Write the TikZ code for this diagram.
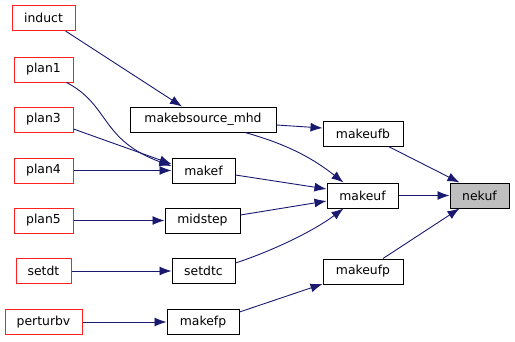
\documentclass[tikz,border=0pt]{standalone}
\usepackage{fontspec}
\setmainfont{DejaVu Sans}
\usetikzlibrary{arrows.meta}
\definecolor{edgeblue}{HTML}{191970}
\definecolor{leafred}{HTML}{FF2020}
\definecolor{curfill}{HTML}{BFBFBF}

\begin{document}
\begin{tikzpicture}[x=1pt, y=-1pt,
	fn/.style={draw=black, line width=1pt, fill=white, minimum height=25,
		inner sep=0pt, font=\fontsize{12.4}{14}\selectfont},
	leaf/.style={fn, draw=leafred},
	call/.style={draw=edgeblue, line width=0.9pt, -{Latex[length=12pt, width=9pt]}}]

	\useasboundingbox (0,0) rectangle (515,341);

	% callers on the left
	\node[leaf, minimum width=63] (induct)   at (43.5, 18)    {induct};
	\node[leaf, minimum width=59] (plan1)    at (43.5, 69.5)  {plan1};
	\node[leaf, minimum width=59] (plan3)    at (43.5, 119.5) {plan3};
	\node[leaf, minimum width=59] (plan4)    at (43.5, 170.5) {plan4};
	\node[leaf, minimum width=59] (plan5)    at (43.5, 220.5) {plan5};
	\node[leaf, minimum width=55] (setdt)    at (43.5, 271)   {setdt};
	\node[leaf, minimum width=77] (perturbv) at (43.5, 322)   {perturbv};

	% middle column
	\node[fn, minimum width=146] (mhd)     at (203, 119.5)   {makebsource\_mhd};
	\node[fn, minimum width=63]  (makef)   at (203.5, 170.5) {makef};
	\node[fn, minimum width=75]  (midstep) at (202.5, 220.5) {midstep};
	\node[fn, minimum width=63]  (setdtc)  at (203.5, 271)   {setdtc};
	\node[fn, minimum width=72]  (makefp)  at (203, 322)     {makefp};

	% right column
	\node[fn, minimum width=80] (makeufb) at (363, 133.5)   {makeufb};
	\node[fn, minimum width=71] (makeuf)  at (362.5, 195.5) {makeuf};
	\node[fn, minimum width=80] (makeufp) at (363, 271.5)   {makeufp};
	\node[fn, fill=curfill, minimum width=59] (nekuf) at (479.5, 195.5) {nekuf};

	% arrows
	\draw[call] ([xshift=-10pt]induct.south east) -- ([xshift=-21pt]mhd.north);
	\draw[call] ([xshift=-7pt]plan1.south east) .. controls (110,105) and (100,140) .. (makef.west |- 0,166);
	\draw[call] (plan3.east |- 0,129) -- (makef.west |- 0,164);
	\draw[call] (plan4) -- (makef);
	\draw[call] (plan5) -- (midstep);
	\draw[call] (setdt) -- (setdtc);
	\draw[call] (perturbv) -- (makefp);

	\draw[call] (mhd.east |- 0,125) -- (makeufb.west |- 0,128);
	\draw[call] ([xshift=42pt]mhd.south) .. controls (290,145) and (315,160) .. ([xshift=-19pt]makeuf.north);
	\draw[call] (makef.east |- 0,175) -- (makeuf.west |- 0,189);
	\draw[call] (midstep.east |- 0,215) -- (makeuf.west |- 0,201);
	\draw[call] (setdtc.east |- 0,263) .. controls (275,250) and (315,230) .. ([xshift=-19pt]makeuf.south);
	\draw[call] (makefp.east |- 0,312) -- (makeufp.west |- 0,284);

	\draw[call] ([xshift=-15pt]makeufb.south east) -- ([xshift=-20pt]nekuf.north);
	\draw[call] (makeuf) -- (nekuf);
	\draw[call] ([xshift=20pt]makeufp.north) -- ([xshift=-20pt]nekuf.south);
\end{tikzpicture}
\end{document}
